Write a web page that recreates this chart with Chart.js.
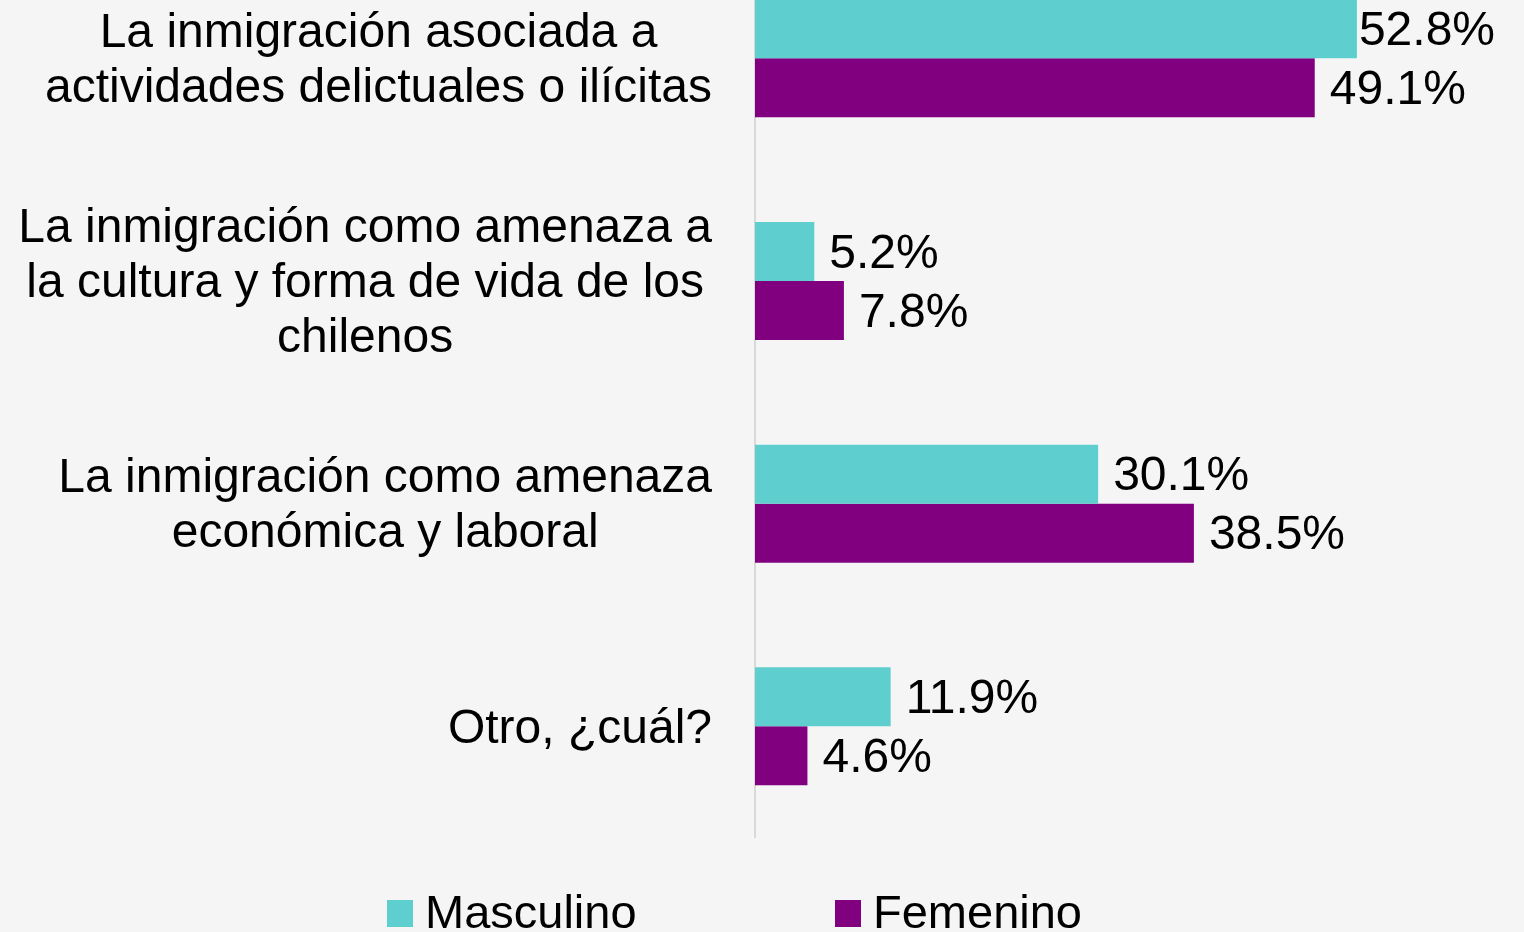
<!DOCTYPE html>
<html><head><meta charset="utf-8">
<script src="https://cdn.jsdelivr.net/npm/chart.js@4.4.1/dist/chart.umd.min.js"></script>
<style>
html,body{margin:0;padding:0;background:#f5f5f5;overflow:hidden;width:1524px;height:932px;}
#wrap{position:absolute;left:0;top:-53px;width:1524px;height:1000px;}
canvas{display:block;}
</style></head><body>
<div id="wrap"><canvas id="c" width="1524" height="1000"></canvas></div>
<script>
const categories = [
  ["La inmigración asociada a", "actividades delictuales o ilícitas"],
  ["La inmigración como amenaza a", "la cultura y forma de vida de los", "chilenos"],
  ["La inmigración como amenaza", "económica y laboral"],
  ["Otro, ¿cuál?"]
];
const seriesNames = ["Masculino", "Femenino"];
const masculino = [52.8, 5.2, 30.1, 11.9];
const femenino = [49.1, 7.8, 38.5, 4.6];
const colors = ["#5fcece", "#800080"];

const FONT = '"Liberation Sans", Arial, sans-serif';

const catLabels = {
  id: 'catLabels',
  afterDraw(chart) {
    const ctx = chart.ctx, ys = chart.scales.y;
    ctx.save();
    ctx.font = '48px ' + FONT;
    ctx.fillStyle = '#000';
    ctx.textBaseline = 'middle';
    ctx.textAlign = 'center';
    const right = chart.chartArea.left - 43, lh = 55;
    categories.forEach((lines, i) => {
      const cy = ys.getPixelForTick(i) + 3;
      const w = Math.max(...lines.map(l => ctx.measureText(l).width));
      const cx = right - w / 2;
      lines.forEach((l, j) => ctx.fillText(l, cx, cy + (j - (lines.length - 1) / 2) * lh));
    });
    ctx.restore();
  }
};

// label nudge (pixels) relative to the default gap: key "dataset-index"
const labelNudge = { "0-0": -13 };

const valueLabels = {
  id: 'valueLabels',
  afterDatasetsDraw(chart) {
    const ctx = chart.ctx;
    ctx.save();
    ctx.font = '48px ' + FONT;
    ctx.fillStyle = '#000';
    ctx.textBaseline = 'middle';
    ctx.textAlign = 'left';
    chart.data.datasets.forEach((ds, di) => {
      chart.getDatasetMeta(di).data.forEach((bar, i) => {
        const dx = 15 + (labelNudge[di + '-' + i] || 0);
        ctx.fillText(ds.data[i].toFixed(1) + '%', bar.x + dx, bar.y + 3);
      });
    });
    ctx.restore();
  }
};

const customLegend = {
  id: 'customLegend',
  afterDraw(chart) {
    const ctx = chart.ctx;
    ctx.save();
    ctx.font = '47px ' + FONT;
    ctx.textBaseline = 'alphabetic';
    ctx.textAlign = 'left';
    const startX = 387, pitch = 448, boxY = 953, box = 26, baseY = 981;
    chart.data.datasets.forEach((ds, i) => {
      const x = startX + i * pitch;
      ctx.fillStyle = ds.backgroundColor;
      ctx.fillRect(x, boxY, box, box + 1);
      ctx.fillStyle = '#000';
      ctx.fillText(ds.label, x + box + 12, baseY);
    });
    ctx.restore();
  }
};

new Chart(document.getElementById('c'), {
  type: 'bar',
  data: {
    labels: categories,
    datasets: [
      { label: seriesNames[0], data: masculino, backgroundColor: colors[0] },
      { label: seriesNames[1], data: femenino, backgroundColor: colors[1] }
    ]
  },
  options: {
    indexAxis: 'y',
    responsive: false,
    animation: false,
    devicePixelRatio: 1,
    layout: { padding: { top: 0, right: 85, bottom: 109.33, left: 0 } },
    categoryPercentage: 0.53,
    barPercentage: 1,
    plugins: { legend: { display: false }, tooltip: { enabled: false } },
    scales: {
      x: { display: false, min: 0, max: 60 },
      y: {
        ticks: { display: false },
        grid: { display: false },
        border: { display: true, color: '#d9d9d9', width: 2 },
        afterFit(scale) { scale.width = 755; }
      }
    }
  },
  plugins: [catLabels, valueLabels, customLegend]
});
</script>
</body></html>
